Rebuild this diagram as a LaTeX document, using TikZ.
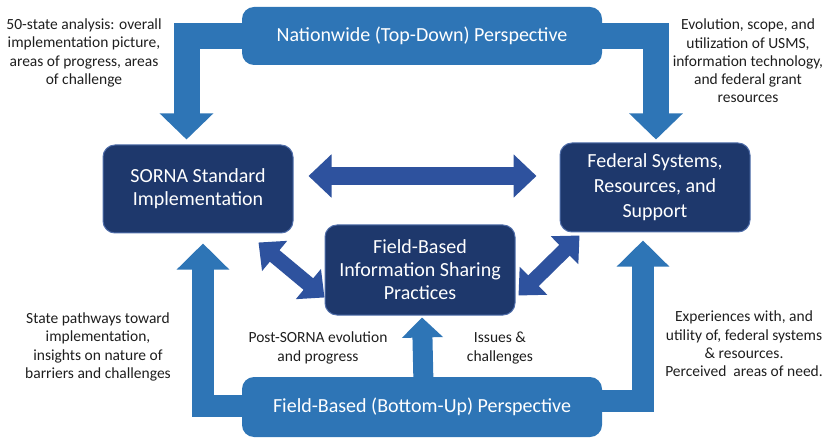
\documentclass[tikz,border=0pt]{standalone}
\usepackage{fontspec}
\setmainfont{Carlito}
\usetikzlibrary{arrows.meta}
\pgfdeclarelayer{background}
\pgfsetlayers{background,main}
\definecolor{midblue}{RGB}{46,117,182}
\definecolor{navy}{RGB}{30,56,108}
\definecolor{navyedge}{RGB}{80,110,170}
\definecolor{dblarrow}{RGB}{46,82,158}
\definecolor{labeltext}{RGB}{30,30,30}
\tikzset{
  bluebox/.style={fill=midblue, rounded corners=12pt, text=white, align=center,
    font=\fontsize{20}{24}\selectfont, minimum width=360pt},
  navybox/.style={fill=navy, draw=navyedge, line width=1pt, rounded corners=12pt,
    text=white, align=center, minimum width=190pt},
  note/.style={text=labeltext, align=center, font=\fontsize{15.5}{18.3}\selectfont},
  bigflow/.style={draw=midblue, line width=26pt, line join=miter,
    -{Triangle[width=52pt,length=26pt]}},
  upflow/.style={draw=midblue, line width=22pt, line join=miter,
    -{Triangle[width=51pt,length=26pt]}},
  twoway/.style={draw=dblarrow, line width=18pt,
    {Triangle[width=42pt,length=23pt]}-{Triangle[width=42pt,length=23pt]}},
  twowaydiag/.style={draw=dblarrow, line width=15pt,
    {Triangle[width=38pt,length=21pt]}-{Triangle[width=38pt,length=21pt]}}
}
\begin{document}
\begin{tikzpicture}[x=1pt,y=-1pt]
\useasboundingbox (0,0) rectangle (837,438);

% boxes
\node[bluebox, minimum height=58pt] (top) at (422,36) {Nationwide (Top-Down) Perspective};
\node[bluebox, minimum height=60pt] (bot) at (422,407) {Field-Based (Bottom-Up) Perspective};
\node[navybox, minimum height=88pt, font=\fontsize{20}{23}\selectfont] (sorna) at (198,189)
  {SORNA Standard\\Implementation};
\node[navybox, minimum height=89pt, font=\fontsize{20}{25}\selectfont] (fed) at (655,187.5)
  {Federal Systems,\\Resources, and\\Support};
\node[navybox, minimum height=90pt, font=\fontsize{20}{23}\selectfont] (mid) at (420,270)
  {Field-Based\\Information Sharing\\Practices};

% flow connectors behind the boxes
\begin{pgfonlayer}{background}
\draw[bigflow] (top.center) -| ([xshift=-11.5pt,yshift=5pt]sorna.north);
\draw[bigflow] (top.center) -| ([xshift=1pt,yshift=3pt]fed.north);
\draw[upflow] ([yshift=1.5pt]bot.center) -| ([xshift=5pt,yshift=-10pt]sorna.south);
\draw[upflow] ([yshift=6.5pt]bot.center) -| ([xshift=-12pt,yshift=-8pt]fed.south);
\draw[draw=midblue, line width=20pt, -{Triangle[width=40pt,length=20pt]}]
  ([xshift=2pt]bot.center) -- ([xshift=2pt,yshift=-2pt]mid.south);
\end{pgfonlayer}

% two-way arrows
\draw[twoway] ([xshift=15pt,yshift=13pt]sorna.east) -- ([xshift=-23pt,yshift=11.5pt]fed.west);
\draw[twowaydiag] ([xshift=-35pt,yshift=-9pt]sorna.south east) -- ([xshift=0pt,yshift=18pt]mid.south west);
\draw[twowaydiag] ([xshift=3pt,yshift=20pt]mid.south east) -- ([xshift=20pt,yshift=-3pt]fed.south west);

% notes
\node[note] (n1) at (84,53) {50-state analysis: overall\\implementation picture,\\areas of progress, areas\\of challenge};
\node[note] (n2) at (748,61) {Evolution, scope, and\\utilization of USMS,\\information technology,\\and federal grant\\resources};
\node[note] (n3) at (98,347) {State pathways toward\\implementation,\\insights on nature of\\barriers and challenges};
\node[note] (n4) at (318,348) {Post-SORNA evolution\\and progress};
\node[note] (n5) at (500,348) {Issues \&\\challenges};
\node[note] (n6) at (744,344) {Experiences with, and\\utility of, federal systems\\\& resources.\\Perceived\ \ areas of need.};
\end{tikzpicture}
\end{document}
